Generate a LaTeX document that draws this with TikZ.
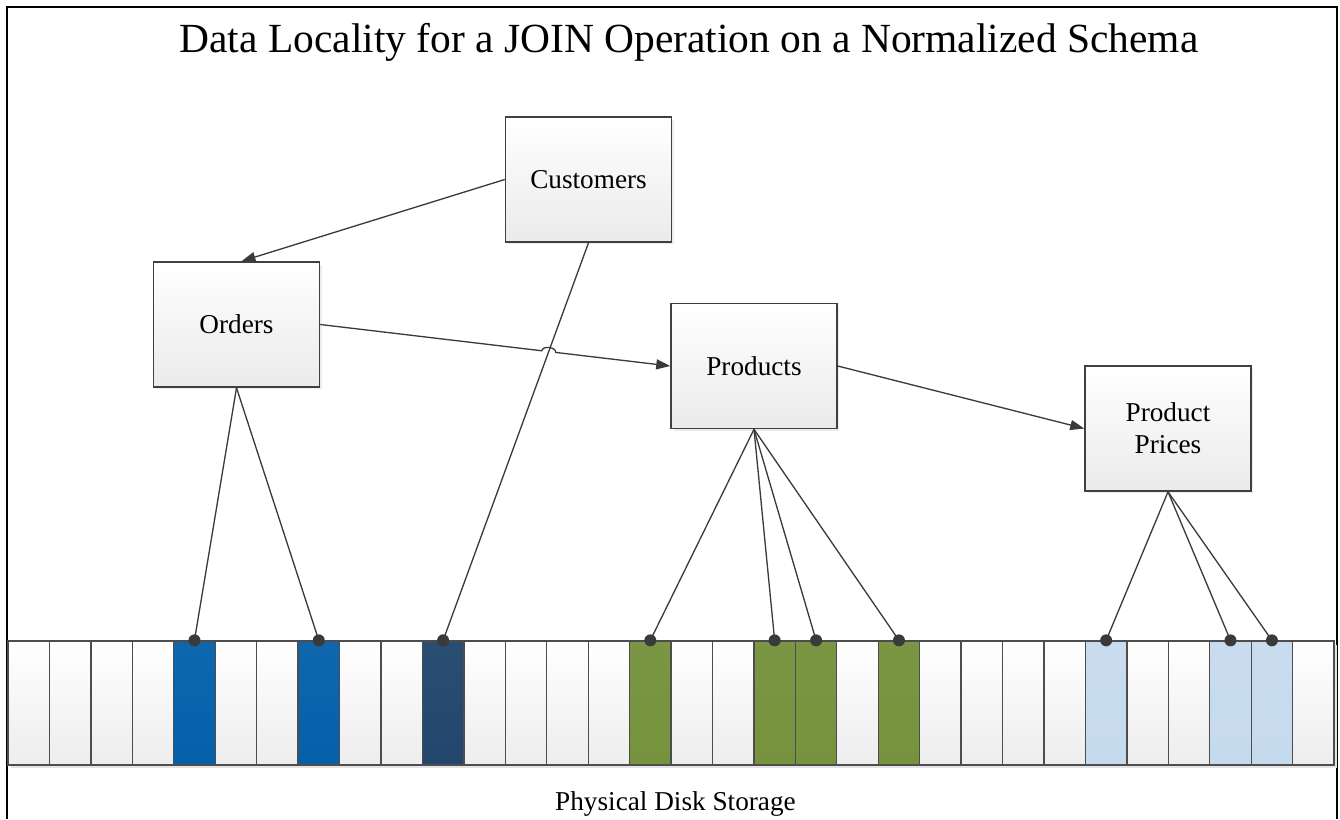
\documentclass[tikz,border=0pt]{standalone}
\usepackage{fontspec}
\setmainfont{Liberation Serif}
\usetikzlibrary{positioning, calc, shadows, arrows.meta}

\definecolor{boxgray}{HTML}{404040}
\definecolor{linegray}{HTML}{3A3A3A}
\definecolor{cellgray}{HTML}{4D4D4D}
\definecolor{ordblue}{HTML}{0560AA}
\definecolor{custblue}{HTML}{22466D}
\definecolor{prodgreen}{HTML}{76923C}
\definecolor{priceblue}{HTML}{C6DAEE}

\begin{document}
\begin{tikzpicture}[x=0.02cm, y=-0.02cm,
    main/.style = {draw=boxgray, line width=0.9pt, top color=white, bottom color=black!8,
        minimum width=3.32cm, minimum height=2.5cm, inner sep=0pt, align=center,
        font=\fontsize{15.5}{18.2}\selectfont,
        drop shadow={opacity=0.15, shadow xshift=0.05cm, shadow yshift=-0.05cm}},
    cell/.style = {draw=cellgray, line width=0.75pt, top color=white, bottom color=black!7,
        minimum width=0.8288cm, minimum height=2.48cm, inner sep=0pt},
    link/.style = {draw=linegray, line width=0.75pt},
    spot/.style = {circle, fill=linegray, inner sep=0pt, minimum size=0.24cm},
    tip/.style = {-{Triangle[length=0.28cm, width=0.2cm]}}]
    \useasboundingbox (0,0) rectangle (1340,819);
    \draw[line width=1.4pt] (7,819) -- (7,7) -- (1337,7) -- (1337,819);

    \node (title) at (689,52) [anchor=base, font=\fontsize{23.6}{28}\selectfont] {Data Locality for a JOIN Operation on a Normalized Schema};

    \node[main] (cust) at (588.5,179.5) {Customers};
    \node[main] (ord) at (236.5,324.5) {Orders};
    \node[main] (prod) at (754,366) {Products};
    \node[main] (price) at (1168,428.5) {Product\\Prices};

    % disk strip
    \fill[black!10] (11,645) rectangle (1337,768);
    \foreach \i in {0,...,31}
        \node[cell] (c\i) at ({8+41.44*(\i+0.5)},703) {};
    \foreach \i/\col in {4/ordblue, 7/ordblue, 10/custblue, 15/prodgreen, 18/prodgreen,
                         19/prodgreen, 21/prodgreen, 26/priceblue, 29/priceblue, 30/priceblue}
        \node[cell, top color=\col!96!white, bottom color=\col] (k\i) at (c\i) {};

    \node (disk) at (675.5,810) [anchor=base, font=\fontsize{15.5}{18}\selectfont] {Physical Disk Storage};

    \draw[link, tip] (cust.west) -- ([xshift=0.1cm]ord.north);
    \coordinate (jump) at (intersection of ord.east--prod.west and cust.south--c10.north);
    \draw[link, tip] (ord.east) -- ($(jump)!0.14cm!(ord.east)$) to[bend left=90] ($(jump)!0.14cm!(prod.west)$) -- (prod.west);
    \draw[link, tip] (prod.east) -- (price.west);

    \draw[link] (cust.south) -- (c10.north) node[spot] (s10) {};
    \foreach \i in {4,7}
        \draw[link] (ord.south) -- (c\i.north) node[spot] (s\i) {};
    \foreach \i in {15,18,19,21}
        \draw[link] (prod.south) -- (c\i.north) node[spot] (s\i) {};
    \foreach \i in {26,29,30}
        \draw[link] (price.south) -- (c\i.north) node[spot] (s\i) {};
\end{tikzpicture}
\end{document}
